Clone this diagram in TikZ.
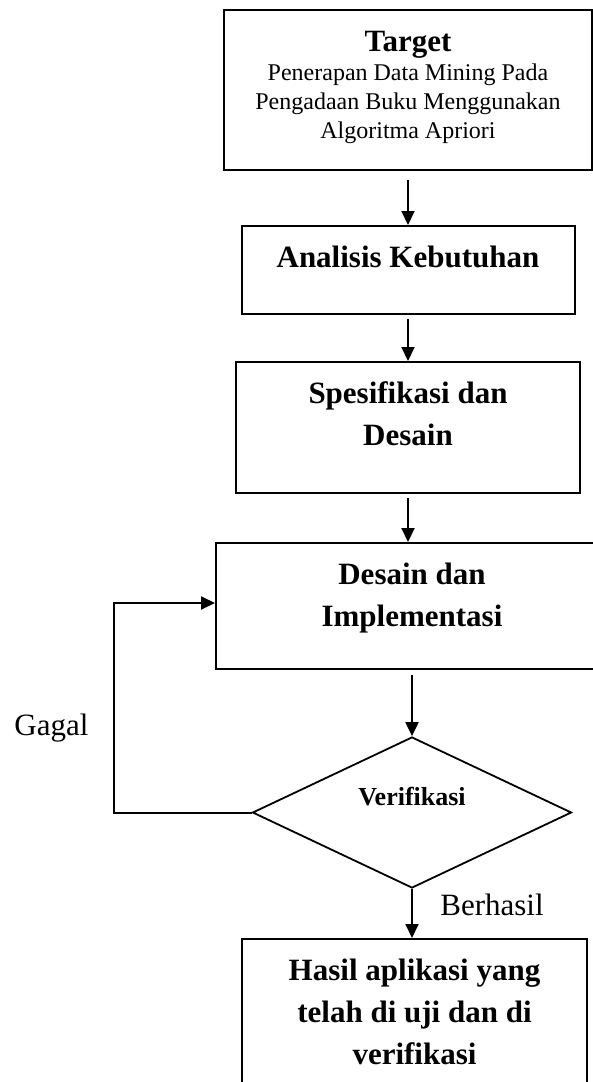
\documentclass[tikz,border=0pt]{standalone}
\usepackage{fontspec}
\setmainfont{Liberation Serif}
\usepackage{tikz}
\usetikzlibrary{shapes.geometric, arrows.meta}

\newcommand{\headfont}{\fontsize{15.5pt}{21pt}\selectfont\bfseries}
\newcommand{\bodyfont}{\fontsize{12pt}{14.5pt}\selectfont}
\newcommand{\labelfont}{\fontsize{15.5pt}{18pt}\selectfont}

\begin{document}
\begin{tikzpicture}[x=0.5pt, y=-0.5pt,
    box/.style={draw, rectangle, line width=1pt, inner sep=0pt},
    txt/.style={inner sep=0pt, align=center},
    flow/.style={line width=1pt, -{Triangle[length=7pt, width=6.5pt]}}]
      \useasboundingbox (0,0) rectangle (593,1082);
      \clip (0,0) rectangle (593,1082);
      % boxes
      \node[box, minimum width=184pt, minimum height=80pt] (target) at (408,90) {};
      \node[txt, anchor=base, font=\headfont] (targettitle) at (408,51) {Target};
      \node[txt, anchor=north, font=\bodyfont] (targettext) at (408,63) {
        Penerapan Data Mining Pada\\
        Pengadaan Buku Menggunakan\\
        Algoritma Apriori
      };
      \node[box, minimum width=166.5pt, minimum height=44pt] (kebutuhan) at (408,270) {};
      \node[txt, anchor=base, font=\headfont] (kebutuhantext) at (408,267) {Analisis Kebutuhan};
      \node[box, minimum width=172pt, minimum height=65.5pt] (spesifikasi) at (408,427.5) {};
      \node[txt, anchor=north, font=\headfont] (spesifikasitext) at (408,381) {
        Spesifikasi dan\\
        Desain
      };
      \node[box, minimum width=196pt, minimum height=63pt] (implementasi) at (412,606) {};
      \node[txt, anchor=north, font=\headfont] (implementasitext) at (412,563) {
        Desain dan\\
        Implementasi
      };
      \node[draw, diamond, line width=0.9pt, inner sep=0pt,
        minimum width=159.5pt, minimum height=75.5pt] (verifikasi) at (412,812.5) {};
      \node[txt, anchor=base, font=\fontsize{13pt}{15pt}\selectfont\bfseries] (verifikasitext) at (412,805) {Verifikasi};
      \node[box, minimum width=172.5pt, minimum height=85pt] (hasil) at (414.5,1024) {};
      \node[txt, anchor=north, font=\headfont] (hasiltext) at (414.5,959) {
        Hasil aplikasi yang\\
        telah di uji dan di\\
        verifikasi
      };
      % labels
      \node[anchor=base west, inner sep=0pt, font=\labelfont] (gagal) at (14,735) {Gagal};
      \node[anchor=base west, inner sep=0pt, font=\labelfont] (berhasil) at (440,915) {Berhasil};
      % arrows
      \draw[flow, shorten <=4.5pt] (target.south) -- (kebutuhan.north);
      \draw[flow, shorten <=2pt] (kebutuhan.south) -- (spesifikasi.north);
      \draw[flow, shorten <=2pt] (spesifikasi.south) -- (spesifikasi.south |- implementasi.north);
      \draw[flow, shorten <=2.5pt] (implementasi.south) -- (verifikasi.north);
      \draw[flow] (verifikasi.south) -- (verifikasi.south |- hasil.north);
      \coordinate (gagalbend) at (114,603);
      \draw[flow] (verifikasi.west) -| (gagalbend) -- (implementasi.west |- gagalbend);
    \end{tikzpicture}
\end{document}
